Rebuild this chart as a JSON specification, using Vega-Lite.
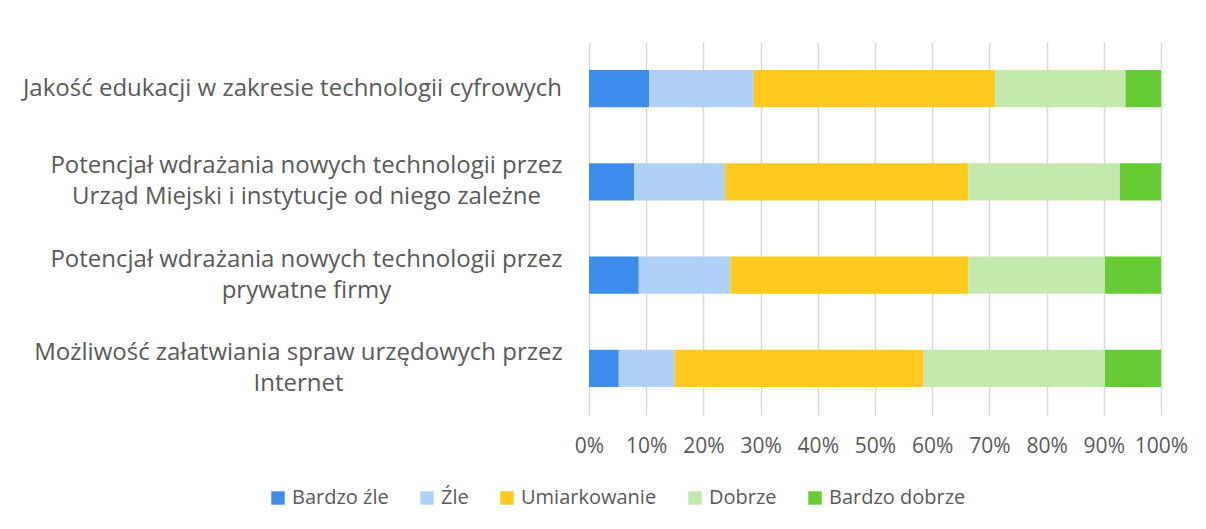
{
  "$schema": "https://vega.github.io/schema/vega-lite/v6.json",
  "width": 572,
  "height": 373,
  "autosize": {"type": "none"},
  "padding": {"left": 589, "top": 42, "right": 45, "bottom": 114},
  "background": "white",
  "config": {
    "view": {"stroke": null},
    "font": "Open Sans"
  },
  "data": {
    "values": [
      {"pytanie": "Jakość edukacji w zakresie technologii cyfrowych", "ocena": "Bardzo źle", "udzial": 10.5},
      {"pytanie": "Jakość edukacji w zakresie technologii cyfrowych", "ocena": "Źle", "udzial": 18.3},
      {"pytanie": "Jakość edukacji w zakresie technologii cyfrowych", "ocena": "Umiarkowanie", "udzial": 42.2},
      {"pytanie": "Jakość edukacji w zakresie technologii cyfrowych", "ocena": "Dobrze", "udzial": 22.8},
      {"pytanie": "Jakość edukacji w zakresie technologii cyfrowych", "ocena": "Bardzo dobrze", "udzial": 6.2},
      {"pytanie": "Potencjał wdrażania nowych technologii przez|Urząd Miejski i instytucje od niego zależne", "ocena": "Bardzo źle", "udzial": 7.9},
      {"pytanie": "Potencjał wdrażania nowych technologii przez|Urząd Miejski i instytucje od niego zależne", "ocena": "Źle", "udzial": 15.9},
      {"pytanie": "Potencjał wdrażania nowych technologii przez|Urząd Miejski i instytucje od niego zależne", "ocena": "Umiarkowanie", "udzial": 42.5},
      {"pytanie": "Potencjał wdrażania nowych technologii przez|Urząd Miejski i instytucje od niego zależne", "ocena": "Dobrze", "udzial": 26.5},
      {"pytanie": "Potencjał wdrażania nowych technologii przez|Urząd Miejski i instytucje od niego zależne", "ocena": "Bardzo dobrze", "udzial": 7.2},
      {"pytanie": "Potencjał wdrażania nowych technologii przez|prywatne firmy", "ocena": "Bardzo źle", "udzial": 8.7},
      {"pytanie": "Potencjał wdrażania nowych technologii przez|prywatne firmy", "ocena": "Źle", "udzial": 16.0},
      {"pytanie": "Potencjał wdrażania nowych technologii przez|prywatne firmy", "ocena": "Umiarkowanie", "udzial": 41.6},
      {"pytanie": "Potencjał wdrażania nowych technologii przez|prywatne firmy", "ocena": "Dobrze", "udzial": 23.9},
      {"pytanie": "Potencjał wdrażania nowych technologii przez|prywatne firmy", "ocena": "Bardzo dobrze", "udzial": 9.8},
      {"pytanie": "Możliwość załatwiania spraw urzędowych przez|Internet", "ocena": "Bardzo źle", "udzial": 5.2},
      {"pytanie": "Możliwość załatwiania spraw urzędowych przez|Internet", "ocena": "Źle", "udzial": 9.8},
      {"pytanie": "Możliwość załatwiania spraw urzędowych przez|Internet", "ocena": "Umiarkowanie", "udzial": 43.4},
      {"pytanie": "Możliwość załatwiania spraw urzędowych przez|Internet", "ocena": "Dobrze", "udzial": 31.8},
      {"pytanie": "Możliwość załatwiania spraw urzędowych przez|Internet", "ocena": "Bardzo dobrze", "udzial": 9.8}
    ]
  },
  "transform": [
    {"calculate": "indexof(['Bardzo źle','Źle','Umiarkowanie','Dobrze','Bardzo dobrze'], datum.ocena)", "as": "kolejnosc"}
  ],
  "mark": {"type": "bar"},
  "encoding": {
    "y": {
      "field": "pytanie",
      "type": "nominal",
      "sort": null,
      "scale": {"paddingInner": 0.6, "paddingOuter": 0.3},
      "axis": {
        "title": null,
        "domain": false,
        "ticks": false,
        "labelExpr": "split(datum.label, '|')",
        "labelAlign": "center",
        "labelBaseline": "middle",
        "labelOffset": {"expr": "indexof(datum.value, '|') >= 0 ? -15.5 : 0"},
        "labelPadding": {"expr": "indexof(datum.value, 'Jakość') == 0 ? 297 : (indexof(datum.value, 'Możliwość') == 0 ? 291 : 283)"},
        "labelFontSize": 24,
        "labelLineHeight": 31,
        "labelColor": "#595959",
        "labelFont": "Open Sans",
        "labelLimit": 700
      }
    },
    "x": {
      "field": "udzial",
      "type": "quantitative",
      "stack": "normalize",
      "scale": {"domain": [0, 1], "nice": false},
      "axis": {
        "title": null,
        "format": "%",
        "values": [0, 0.1, 0.2, 0.3, 0.4, 0.5, 0.6, 0.7, 0.8, 0.9, 1],
        "domain": false,
        "ticks": false,
        "grid": true,
        "gridColor": "#d9d9d9",
        "gridWidth": 1.5,
        "labelPadding": 20,
        "labelFontSize": 21,
        "labelColor": "#595959",
        "labelFont": "Open Sans",
        "labelFlush": false,
        "labelOverlap": false
      }
    },
    "color": {
      "field": "ocena",
      "type": "nominal",
      "sort": ["Bardzo źle", "Źle", "Umiarkowanie", "Dobrze", "Bardzo dobrze"],
      "scale": {
        "domain": ["Bardzo źle", "Źle", "Umiarkowanie", "Dobrze", "Bardzo dobrze"],
        "range": ["#3d8beb", "#b0d0f5", "#ffc91d", "#c3e9af", "#66cc33"]
      },
      "legend": {
        "title": null,
        "orient": "none",
        "direction": "horizontal",
        "legendX": -321,
        "legendY": 446,
        "symbolType": "square",
        "symbolSize": 180,
        "symbolStrokeWidth": 0,
        "labelFontSize": 20,
        "labelColor": "#595959",
        "labelFont": "Open Sans",
        "labelOffset": 4,
        "columnPadding": 28
      }
    },
    "order": {"field": "kolejnosc", "type": "quantitative"}
  }
}
